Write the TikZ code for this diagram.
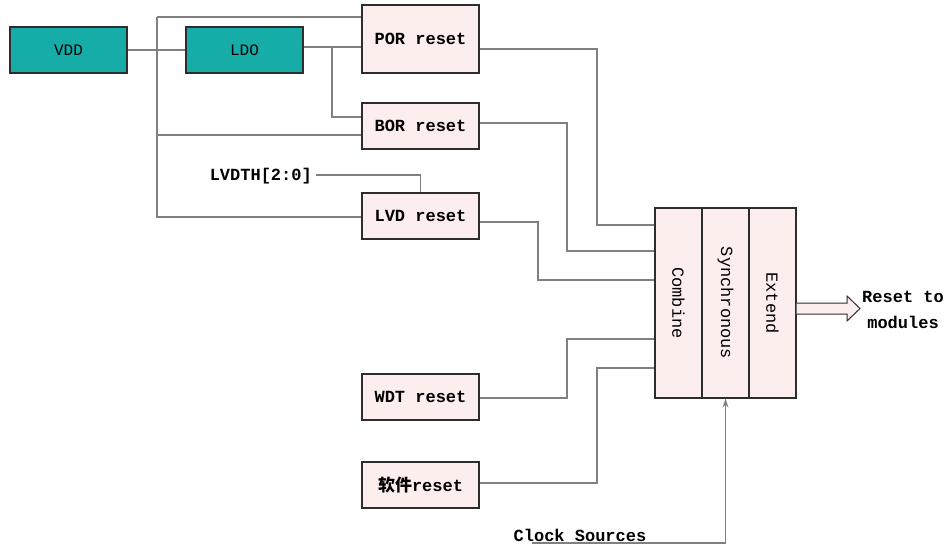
\documentclass[tikz,border=0pt]{standalone}
\usepackage{fontspec}
\setmonofont{Liberation Mono}
\newfontfamily\cjk{Noto Sans CJK SC}
\usetikzlibrary{calc,arrows.meta}
\definecolor{tealfill}{RGB}{22,172,168}
\definecolor{pinkfill}{RGB}{253,238,238}
\definecolor{wiregray}{RGB}{128,128,128}
\definecolor{edgegray}{RGB}{45,45,45}
\tikzset{
  tealbox/.style={draw=edgegray,line width=1.2pt,fill=tealfill,minimum width=117pt,minimum height=46pt,inner sep=0pt,font=\ttfamily\fontsize{16}{16}\selectfont},
  pinkbox/.style={draw=edgegray,line width=1.2pt,fill=pinkfill,minimum width=117pt,minimum height=46pt,inner sep=0pt,font=\ttfamily\bfseries\fontsize{17}{17}\selectfont},
  blockpart/.style={draw=edgegray,line width=1.2pt,fill=pinkfill,minimum width=47pt,minimum height=190pt,inner sep=0pt,font=\ttfamily\fontsize{17}{17}\selectfont},
  wire/.style={draw=wiregray,line width=1.1pt},
  sigtext/.style={font=\ttfamily\bfseries\fontsize{17}{26}\selectfont,inner sep=0pt}
}
\begin{document}
\begin{tikzpicture}[x=1pt,y=-1pt]
  \useasboundingbox (0,0) rectangle (947,547);
  %sources
  \node[tealbox] (vdd) at (68.5,50) {VDD};
  \node[tealbox] (ldo) at (244.5,50) {LDO};
  %reset sources
  \node[pinkbox,minimum height=68pt] (por) at (420.5,39) {POR reset};
  \node[pinkbox] (bor) at (420.5,126) {BOR reset};
  \node[pinkbox] (lvd) at (420.5,216) {LVD reset};
  \node[pinkbox] (wdt) at (420.5,397) {WDT reset};
  \node[pinkbox] (sw) at (420.5,485) {{\cjk\bfseries 软件}reset};
  %combine / synchronous / extend
  \node[blockpart] (comb) at (678.5,303) {\rotatebox{-90}{Combine}};
  \node[blockpart] (sync) at (725.5,303) {\rotatebox{-90}{Synchronous}};
  \node[blockpart] (ext) at (772.5,303) {\rotatebox{-90}{Extend}};
  %labels
  \node[sigtext,anchor=east] (lvdth) at (312,176) {LVDTH[2:0]};
  \node[sigtext] (clk) at (580,535) {Clock Sources};
  \node[sigtext,align=center] (out) at (903,310) {Reset to\\modules};
  \coordinate (clkend) at (532,543);
  \coordinate (bus) at (157,17);
  %supply wiring
  \draw[wire] (vdd.east) -- (ldo.west);
  \draw[wire] (bus) -- (por.west |- bus);
  \draw[wire] (bus) |- (lvd.west |- 0,217);
  \draw[wire] (bus |- 0,135) -- (bor.west |- 0,135);
  \draw[wire] (ldo.east |- 0,47) -- (por.west |- 0,47);
  \draw[wire] (332,47) |- (bor.west |- 0,117);
  \draw[wire] (lvdth.east) ++(4,-1) -| (lvd.north);
  %reset inputs to combine
  \draw[wire] (por.east |- 0,49) -| (597,225) -- (comb.west |- 0,225);
  \draw[wire] (bor.east |- 0,123) -| (567,251) -- (comb.west |- 0,251);
  \draw[wire] (lvd.east |- 0,222) -| (538,280) -- (comb.west |- 0,280);
  \draw[wire] (wdt.east |- 0,398) -| (567,339) -- (comb.west |- 0,339);
  \draw[wire] (sw.east |- 0,483) -| (597,368) -- (comb.west |- 0,368);
  %clock
  \draw[wire,-{Stealth[length=9pt,width=6pt]}] (clkend) -| (sync.south);
  %output arrow
  \draw[draw=edgegray,line width=1pt,fill=pinkfill] (ext.east |- 0,303) -- (847,303) -- (847,296) -- (860,308.5) -- (847,321) -- (847,314) -- (ext.east |- 0,314);
\end{tikzpicture}
\end{document}
